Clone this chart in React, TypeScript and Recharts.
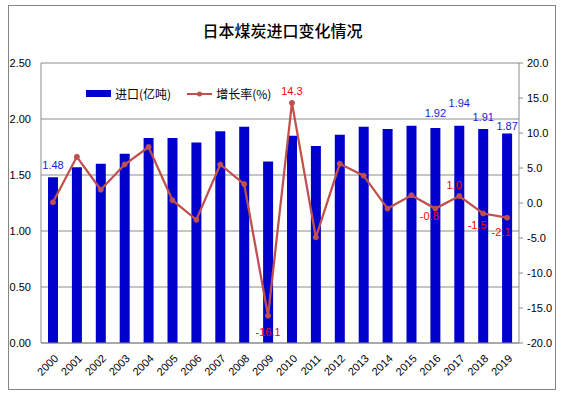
import React from "react"
import {
  ComposedChart,
  Bar,
  Line,
  XAxis,
  YAxis,
  CartesianGrid,
  LabelList,
} from "recharts"

const years = [
  "2000", "2001", "2002", "2003", "2004", "2005", "2006", "2007", "2008", "2009",
  "2010", "2011", "2012", "2013", "2014", "2015", "2016", "2017", "2018", "2019",
]
const imports = [
  1.48, 1.57, 1.6, 1.69, 1.83, 1.83, 1.79, 1.89, 1.93, 1.62,
  1.85, 1.76, 1.86, 1.93, 1.91, 1.94, 1.92, 1.94, 1.91, 1.87,
]
const growth = [
  0.1, 6.6, 1.9, 5.5, 8.0, 0.4, -2.4, 5.5, 2.7, -16.1,
  14.3, -4.9, 5.6, 3.9, -0.8, 1.1, -0.8, 1.0, -1.5, -2.1,
]
const leftTicks = [0, 0.5, 1, 1.5, 2, 2.5]
const rightTicks = [-20, -15, -10, -5, 0, 5, 10, 15, 20]

// which points carry a value label (and small nudges, like the hand-placed labels in the original)
const importLabels: Record<string, number> = { "2000": -11, "2016": -14, "2017": -22, "2018": -11, "2019": -6 }
const growthLabels: Record<string, [number, number]> = {
  "2009": [0, 17],
  "2010": [0, -11],
  "2016": [-6, 8],
  "2017": [-5, -10],
  "2018": [-6, 13],
  "2019": [-6, 15],
}

const BAR = "#0000CC"
const LINE = "#C0504D"
const FONT = "'Liberation Sans', Arial, sans-serif"
const CJK = "'Noto Sans CJK SC', sans-serif"

const data = years.map((year, i) => ({
  year,
  imports: imports[i],
  growth: growth[i],
}))

function ImportLabel(props: any) {
  const { x, y, width, index } = props
  const dy = importLabels[years[index]]
  if (dy === undefined) return null
  return (
    <text x={x + width / 2} y={y + dy} fill="#1a1ad6" fontSize={11} fontFamily={FONT} textAnchor="middle" dominantBaseline="middle">
      {imports[index].toFixed(2)}
    </text>
  )
}

function GrowthLabel(props: any) {
  const { x, y, index } = props
  const off = growthLabels[years[index]]
  if (!off) return null
  return (
    <text x={x + off[0]} y={y + off[1]} fill="#FF0000" fontSize={11} fontFamily={FONT} textAnchor="middle" dominantBaseline="middle">
      {growth[index].toFixed(1)}
    </text>
  )
}

function YearTick(props: any) {
  const { x, y, payload } = props
  return (
    <text x={x + 4} y={y + 6} transform={`rotate(-45, ${x + 4}, ${y + 6})`} textAnchor="end" fontSize={11} fontFamily={FONT} fill="#000" dominantBaseline="middle">
      {payload.value}
    </text>
  )
}

function LegendBox() {
  return (
    <div style={{ display: "flex", alignItems: "center", fontFamily: CJK, fontSize: 12, color: "#000" }}>
      <span style={{ display: "inline-block", width: 25, height: 7, background: BAR, marginRight: 4 }} />
      <span style={{ marginRight: 16 }}>进口(亿吨)</span>
      <svg width={25} height={8} style={{ marginRight: 4 }}>
        <line x1={0} y1={4} x2={25} y2={4} stroke={LINE} strokeWidth={2} />
        <circle cx={12.5} cy={4} r={2.5} fill={LINE} />
      </svg>
      <span>增长率(%)</span>
    </div>
  )
}

export default function App() {
  return (
    <div style={{ position: "absolute", left: 0, top: 0, width: 571, height: 397, background: "#fff" }}>
      <div
        style={{
          position: "absolute",
          left: 8,
          top: 5,
          width: 546,
          height: 383,
          border: "1px solid #868686",
        }}
      />
      <div
        style={{
          position: "absolute",
          left: 0,
          top: 18,
          width: 565,
          textAlign: "center",
          fontFamily: CJK,
          fontSize: 16,
          fontWeight: 500,
          color: "#000",
        }}
      >
        日本煤炭进口变化情况
      </div>
      <div style={{ position: "absolute", left: 0, top: 0 }}>
        <ComposedChart width={571} height={397} data={data} margin={{ top: 63, right: 16, left: 8, bottom: 14 }}>
          <CartesianGrid vertical={false} stroke="#8c8c8c" yAxisId="left" />
          <XAxis
            dataKey="year"
            tick={<YearTick />}
            tickLine={false}
            axisLine={{ stroke: "#8c8c8c" }}
            height={40}
            interval={0}
          />
          <YAxis
            yAxisId="left"
            domain={[0, 2.5]}
            ticks={leftTicks}
            tickFormatter={(v: number) => v.toFixed(2)}
            tick={{ fontSize: 11, fontFamily: FONT, fill: "#000" }}
            tickLine={false}
            axisLine={{ stroke: "#8c8c8c" }}
            width={33}
            tickMargin={4}
          />
          <YAxis
            yAxisId="right"
            orientation="right"
            domain={[-20, 20]}
            ticks={rightTicks}
            tickFormatter={(v: number) => v.toFixed(1)}
            tick={{ fontSize: 11, fontFamily: FONT, fill: "#000" }}
            tickLine={{ stroke: "#8c8c8c" }}
            tickSize={4}
            axisLine={{ stroke: "#8c8c8c" }}
            width={36}
            tickMargin={4}
          />
          <Bar yAxisId="left" dataKey="imports" name="进口(亿吨)" fill={BAR} barSize={10} isAnimationActive={false}>
            <LabelList dataKey="imports" content={<ImportLabel />} />
          </Bar>
          <Line
            yAxisId="right"
            dataKey="growth"
            name="增长率(%)"
            type="linear"
            stroke={LINE}
            strokeWidth={2.25}
            dot={{ r: 2.5, fill: LINE, stroke: LINE, strokeWidth: 1 }}
            activeDot={false}
            isAnimationActive={false}
          >
            <LabelList dataKey="growth" content={<GrowthLabel />} />
          </Line>
        </ComposedChart>
      </div>
      <div style={{ position: "absolute", left: 86, top: 85 }}>
        <LegendBox />
      </div>
    </div>
  )
}
